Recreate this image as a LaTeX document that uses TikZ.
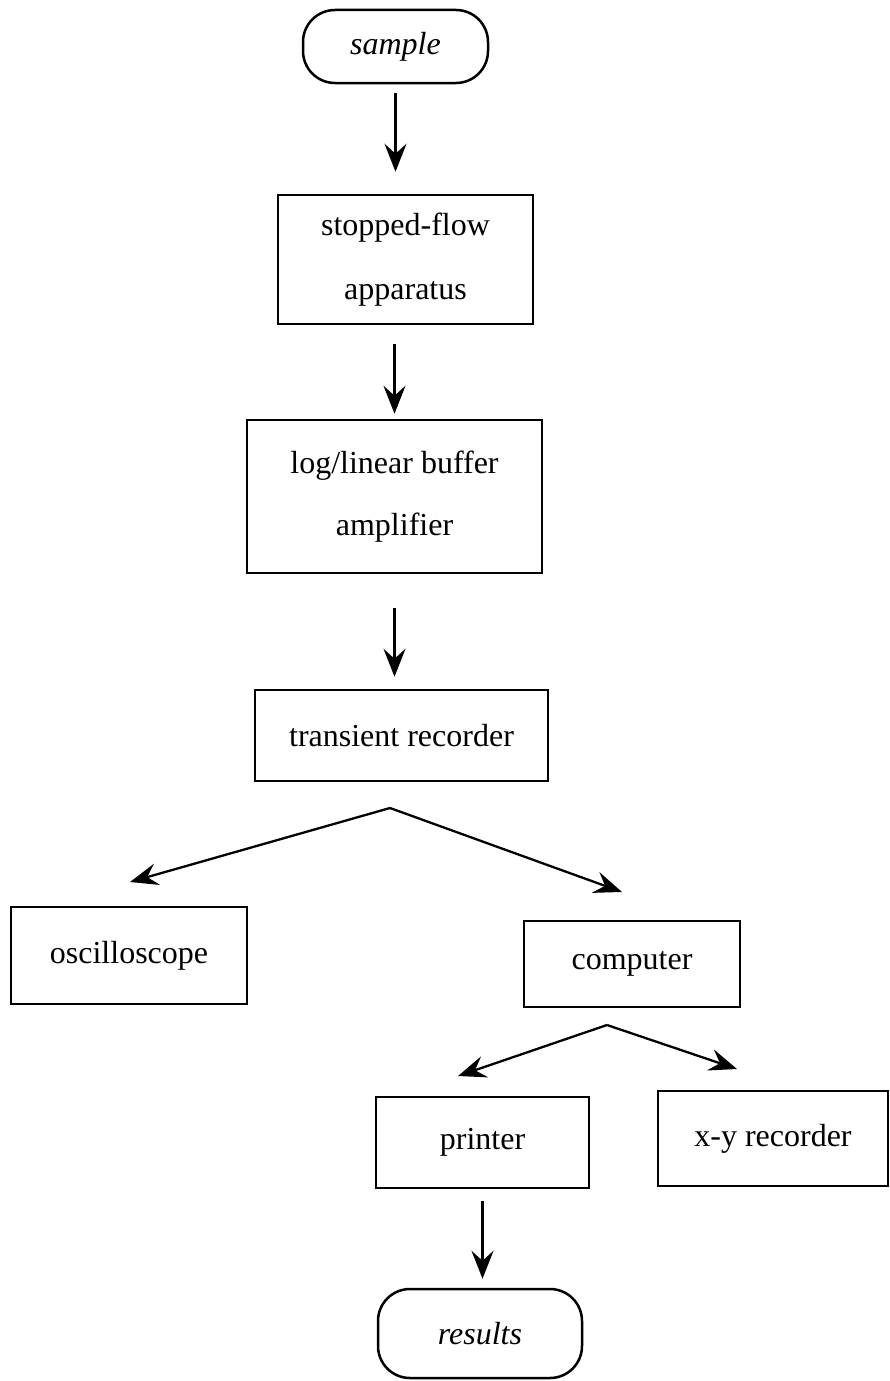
\documentclass[tikz,border=0pt]{standalone}
\usepackage{fontspec}
\setmainfont{Liberation Serif}
\usetikzlibrary{shapes,arrows,arrows.meta}
\tikzstyle{block} = [rectangle, draw, line width=2.5pt, inner sep=0pt,
    align=center, font=\fontsize{32}{38}\selectfont]
\tikzstyle{term} = [block, rounded corners=32pt, font=\fontsize{32}{38}\selectfont\itshape]
\tikzstyle{line} = [draw, line width=2.3pt, -{Stealth[length=28pt,width=22pt,inset=10pt]}]

\begin{document}
\begin{tikzpicture}[x=1pt, y=1pt]
			\useasboundingbox (0,0) rectangle (890,-1381);
			% Place nodes
			\node [term, minimum width=185pt, minimum height=73pt] (smp) at (395.5,-46.5) {sample};
			\node [block, below of=smp, node distance=213pt, xshift=10pt, minimum width=255pt, minimum height=129pt] (sfa) {stopped-flow\\[26pt]apparatus};
			\node [block, below of=sfa, node distance=237pt, xshift=-11pt, minimum width=295pt, minimum height=153pt] (amp) {log/linear buffer\\[24pt]amplifier};
			\node [block, below of=amp, node distance=239pt, xshift=7pt, minimum width=293pt, minimum height=91pt] (tr) {transient recorder};
			\node [block, below of=tr, node distance=220pt, xshift=-272.5pt, minimum width=236pt, minimum height=97pt] (osc) {oscilloscope};
			\node [block, below of=tr, node distance=228.5pt, xshift=230.5pt, minimum width=216pt, minimum height=86pt] (comp) {computer};
			\node [block, below of=comp, node distance=178.5pt, xshift=-149.5pt, minimum width=213pt, minimum height=91pt] (prn) {printer};
			\node [block, below of=comp, node distance=174.5pt, xshift=141pt, minimum width=230pt, minimum height=95pt] (xyr) {x-y recorder};
			\node [term, below of=prn, node distance=191pt, xshift=-2.5pt, minimum width=204pt, minimum height=89pt] (res) {results};
			% Split points
			\coordinate [below of=tr, node distance=72.5pt, xshift=-11.5pt] (split1);
			\coordinate [above of=osc, node distance=73.5pt, xshift=1pt] (osctip);
			\coordinate [above of=comp, node distance=72pt, xshift=-10pt] (comptip);
			\coordinate [below of=comp, node distance=61pt, xshift=-25pt] (split2);
			\coordinate [above of=prn, node distance=66.5pt, xshift=-24.5pt] (prntip);
			\coordinate [above of=xyr, node distance=69.5pt, xshift=-36pt] (xyrtip);
			% Draw edges
			\path [line, shorten <=9pt, shorten >=22pt] (smp.south) -- (smp.south |- sfa.north);
			\path [line, shorten <=19pt, shorten >=5pt] (amp.north |- sfa.south) -- (amp.north);
			\path [line, shorten <=34pt, shorten >=12pt] (amp.south) -- (amp.south |- tr.north);
			\path [line] (split1) -- (osctip);
			\path [line] (split1) -- (comptip);
			\path [line] (split2) -- (prntip);
			\path [line] (split2) -- (xyrtip);
			\path [line, shorten <=12pt, shorten >=9pt] (prn.south) -- (prn.south |- res.north);
\end{tikzpicture}
\end{document}
